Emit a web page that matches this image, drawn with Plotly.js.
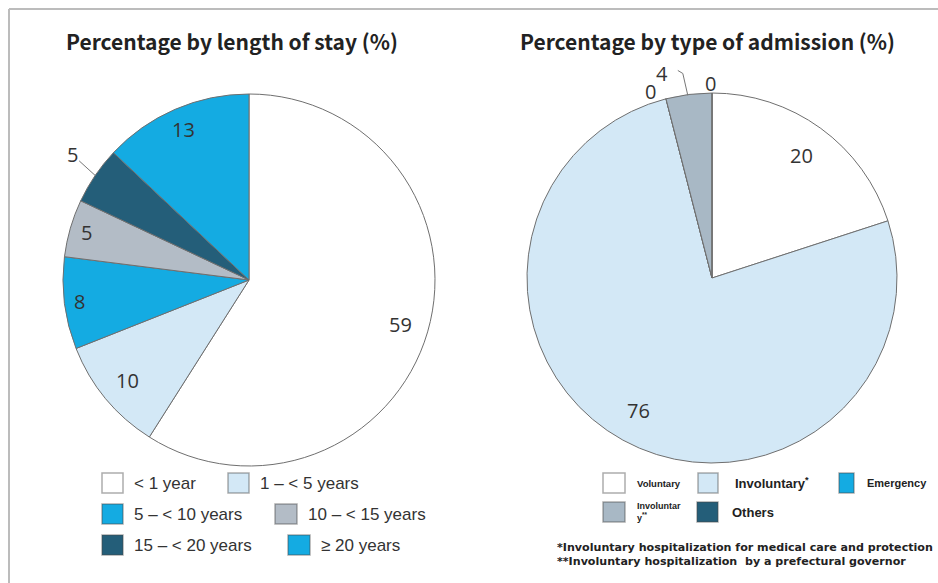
<!DOCTYPE html>
<html>
<head>
<meta charset="utf-8">
<script src="https://cdn.plot.ly/plotly-3.0.1.min.js"></script>
<style>
  html, body { margin: 0; padding: 0; background: #fff; }
  #chart { width: 938px; height: 583px; }
</style>
</head>
<body>
<div id="chart"></div>
<script>
// ---- Percentage by length of stay (%) ----
const stayLabels = ['< 1 year', '1 – < 5 years', '5 – < 10 years', '10 – < 15 years', '15 – < 20 years', '≥ 20 years'];
const stayValues = [59, 10, 8, 5, 5, 13];
const stayColors = ['#ffffff', '#d3e8f6', '#14abe2', '#b3bcc6', '#245e79', '#14abe2'];

// ---- Percentage by type of admission (%) ----
const admitLabels = ['Voluntary', 'Involuntary<sup>*</sup>', 'Emergency', 'Involuntar<br>y<sup>**</sup>', 'Others'];
const admitValues = [20, 76, 0, 4, 0];
const admitColors = ['#ffffff', '#d3e8f6', '#14abe2', '#a8b8c5', '#245e79'];

const titles = ['Percentage by length of stay (%)', 'Percentage by type of admission (%)'];
const footnotes = [
  '*Involuntary hospitalization for medical care and protection',
  '**Involuntary hospitalization  by a prefectural governor'
];

// ---- page geometry (pixels) ----
const W = 938, H = 583;
const px = x => x / W;
const py = y => 1 - y / H;

const leftPie  = { cx: 249, cy: 280, r: 186 };
const rightPie = { cx: 712, cy: 278, r: 185 };

function domainOf(p) {
  return { x: [px(p.cx - p.r), px(p.cx + p.r)], y: [py(p.cy + p.r), py(p.cy - p.r)] };
}

// point inside/at the edge of a slice, measured clockwise from 12 o'clock
function slicePoints(values, p, fracs) {
  const total = values.reduce((a, b) => a + b, 0);
  let cum = 0;
  return values.map((v, i) => {
    const th = 2 * Math.PI * (cum + v / 2) / total;
    cum += v;
    return { x: p.cx + fracs[i] * p.r * Math.sin(th), y: p.cy - fracs[i] * p.r * Math.cos(th) };
  });
}

const sliceLine = { color: '#6f6f6f', width: 1 };

const traces = [
  {
    type: 'pie', values: stayValues, labels: stayLabels,
    marker: { colors: stayColors, line: sliceLine },
    sort: false, direction: 'clockwise', rotation: 0,
    textinfo: 'none', showlegend: false, hoverinfo: 'label+value',
    domain: domainOf(leftPie)
  },
  {
    type: 'pie', values: admitValues, labels: admitLabels,
    marker: { colors: admitColors, line: sliceLine },
    sort: false, direction: 'clockwise', rotation: 0,
    textinfo: 'none', showlegend: false, hoverinfo: 'label+value',
    domain: domainOf(rightPie)
  }
];

const annotations = [];
const shapes = [];

const valueFont = { family: 'Open Sans, sans-serif', size: 20, color: '#333' };
const leaderLine = { color: '#777', width: 1 };

// value labels, left pie
const stayFracs = [0.85, 0.85, 0.92, 0.91, 1.0, 0.88];
slicePoints(stayValues, leftPie, stayFracs).forEach((pt, i) => {
  if (i === 4) {
    annotations.push({
      xref: 'paper', yref: 'paper', x: px(pt.x), y: py(pt.y),
      text: String(stayValues[i]), font: valueFont,
      showarrow: true, arrowhead: 0, arrowwidth: 1, arrowcolor: '#777',
      ax: -23, ay: -21, standoff: 0
    });
  } else {
    annotations.push({
      xref: 'paper', yref: 'paper', x: px(pt.x), y: py(pt.y),
      xanchor: 'center', yanchor: 'middle',
      text: String(stayValues[i]), font: valueFont, showarrow: false
    });
  }
});

// value labels, right pie
const admitFracs = [0.82, 0.82, 1.0, 1.0, 1.0];
const admitOutside = { 2: [-15, -7], 3: [-27, -21], 4: [-2, -10] };
slicePoints(admitValues, rightPie, admitFracs).forEach((pt, i) => {
  const off = admitOutside[i] || [0, 0];
  annotations.push({
    xref: 'paper', yref: 'paper', x: px(pt.x + off[0]), y: py(pt.y + off[1]),
    xanchor: 'center', yanchor: 'middle',
    text: String(admitValues[i]), font: valueFont, showarrow: false
  });
  if (i === 3) {
    // leader line for the narrow slice
    shapes.push({
      type: 'path', xref: 'paper', yref: 'paper', line: leaderLine,
      path: 'M' + [px(pt.x - 11), py(pt.y - 24)] + 'L' + [px(pt.x - 6), py(pt.y - 21)] +
            'L' + [px(pt.x - 1), py(pt.y + 1)]
    });
  }
});

// chart titles
const titleFont = { family: 'Noto Sans CJK JP, sans-serif', size: 21, color: '#222', weight: 700 };
[[232, titles[0]], [707, titles[1]]].forEach(([x, t]) => {
  annotations.push({
    xref: 'paper', yref: 'paper', x: px(x), y: py(41),
    xanchor: 'center', yanchor: 'middle', text: t, font: titleFont, showarrow: false
  });
});

// ---- legends ----
const boxLine = { color: 'rgba(70,70,70,0.45)', width: 1.5 };
function legendBox(x0, x1, yc, color, h) {
  const hh = (h || 20) / 2;
  shapes.push({
    type: 'rect', xref: 'paper', yref: 'paper',
    x0: px(x0), x1: px(x1), y0: py(yc + hh), y1: py(yc - hh),
    fillcolor: color, line: boxLine
  });
}
function legendText(x, yc, text, font) {
  annotations.push({
    xref: 'paper', yref: 'paper', x: px(x), y: py(yc),
    xanchor: 'left', yanchor: 'middle', align: 'left',
    text: text, font: font, showarrow: false
  });
}

const stayLegendFont = { family: 'Liberation Sans, Arial, sans-serif', size: 17, color: '#333' };
// [box x0, box x1, row centre]
const stayLegendPos = [[102, 123, 483], [228, 249, 483], [102, 123, 514], [275, 297, 514], [102, 123, 545], [288, 310, 545]];
stayLabels.forEach((lab, i) => {
  const [x0, x1, yc] = stayLegendPos[i];
  legendBox(x0, x1, yc, stayColors[i]);
  legendText(x1 + 9, yc, lab, stayLegendFont);
});

const admitLegendPos = [[603, 625, 483], [698, 718, 483], [839, 854, 483], [603, 625, 512], [697, 718, 512]];
const admitLegendSize = [9.5, 13, 11, 9, 13];
const admitTextX = [635, 733, 865, 635, 730];
admitLabels.forEach((lab, i) => {
  const [x0, x1, yc] = admitLegendPos[i];
  legendBox(x0, x1, yc, admitColors[i]);
  legendText(admitTextX[i], yc, lab, {
    family: 'Liberation Sans, Arial, sans-serif', size: admitLegendSize[i], color: '#222', weight: 700
  });
});

const noteFont = { family: 'DejaVu Sans, sans-serif', size: 11.1, color: '#222', weight: 700 };
footnotes.forEach((t, i) => legendText(555, 547 + i * 14, t, noteFont));

// frame around the figure
const frame = { color: '#bcbcbc', width: 2 };
shapes.push({ type: 'line', xref: 'paper', yref: 'paper', x0: px(9), x1: px(9), y0: py(9), y1: 0, line: frame });
shapes.push({ type: 'line', xref: 'paper', yref: 'paper', x0: px(9), x1: 1, y0: py(9), y1: py(9), line: frame });

const layout = {
  width: W, height: H,
  margin: { l: 0, r: 0, t: 0, b: 0, pad: 0 },
  paper_bgcolor: '#ffffff',
  showlegend: false,
  annotations: annotations,
  shapes: shapes
};

Plotly.newPlot('chart', traces, layout, { displayModeBar: false, staticPlot: true });
</script>
</body>
</html>
